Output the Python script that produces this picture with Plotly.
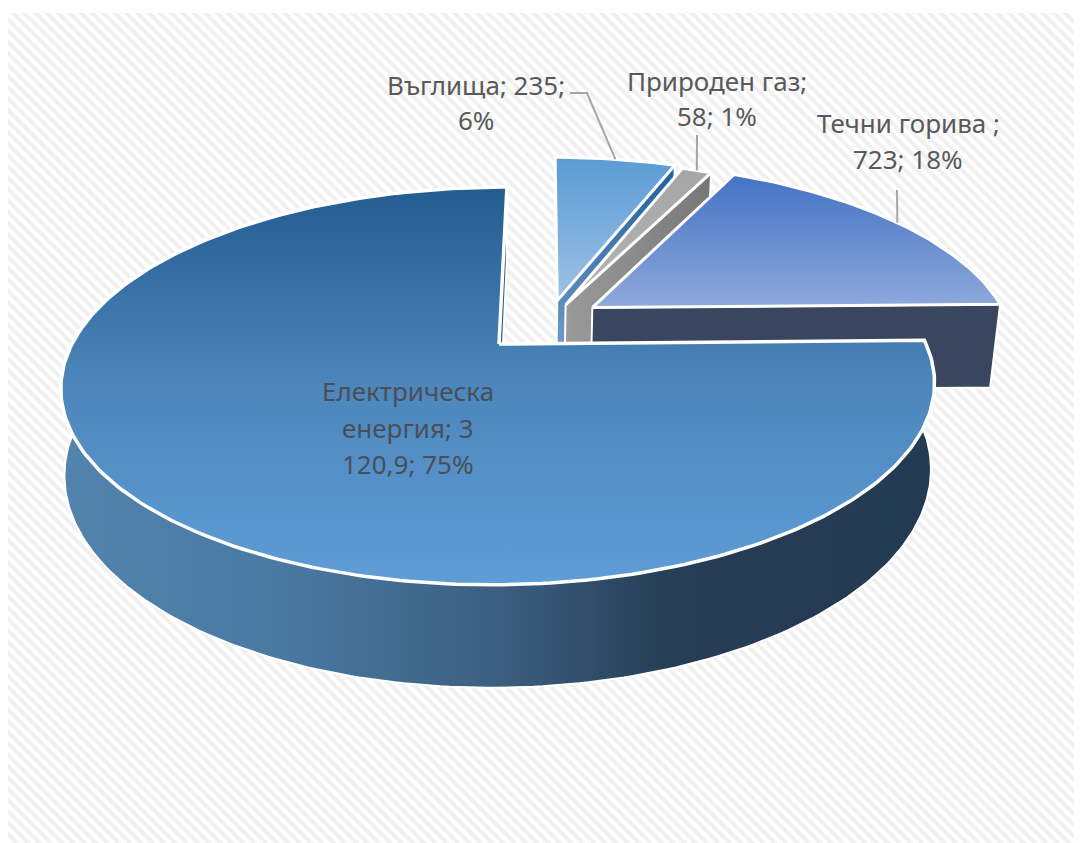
import numpy as np
import plotly.graph_objects as go

# Data
names = ["Електрическа енергия", "Въглища", "Природен газ", "Течни горива"]
values = [3120.9, 235, 58, 723]
percent_labels = ["75%", "6%", "1%", "18%"]
value_labels = ["3 120,9", "235", "58", "723"]

# Styling / projection parameters
W, H = 1082, 843
PAGE = 8                   # the page's own margin around the figure
CX, CY = 499, 344          # pie centre on the page
F, G = 427, 190            # radius scale across / along the view
K = 0.211                  # perspective
SKEW = 0.014               # slight shear of the view
WALL_W, WALL_V = 0.008, 84    # extrusion of the outer wall
FACE_W, FACE_V = 0.0213, 88   # extrusion of the cut faces
START = 88.9
explode = [(0, 0), (0.14, 0.24), (0.16, 0.2145), (0.225, 0.2)]
FONT = "Noto Sans"
TXT = "#595959"
TXT_ON_BLUE = "#4a4f57"


def project(X, Y, d=0.0, dw=WALL_W, dv=WALL_V):
    X, Y = np.asarray(X, float), np.asarray(Y, float)
    w = 1 + K * Y + dw * d
    return CX + F * (X + SKEW * Y) / w, CY + (-G * Y + dv * d) / w


def rim(t0, t1, off, d=0.0):
    n = max(2, int(abs(t1 - t0)) + 2)
    th = np.radians(np.linspace(t0, t1, n))
    return project(off[0] + np.sin(th), off[1] + np.cos(th), d)


def poly(xs, ys, gradient=None, line="white", lw=3):
    kw = dict(fillgradient=gradient) if gradient else {}
    return go.Scatter(x=list(xs), y=list(ys), mode="lines", fill="toself",
                      line=dict(color=line, width=lw), hoverinfo="skip",
                      showlegend=False, **kw)


def vgrad(*cols):
    n = len(cols) - 1
    return dict(type="vertical", colorscale=[[i / n, c] for i, c in enumerate(cols)])


def hgrad(*stops):
    return dict(type="horizontal", colorscale=[list(s) for s in stops])


total = sum(values)
sweeps = [v / total * 360 for v in values]
angles = [START]
for s in sweeps:
    angles.append(angles[-1] + s)

fig = go.Figure()

# Hatched backdrop
fig.add_trace(go.Scatter(x=[8, W + 9, W + 9, 8, 8], y=[13, 13, H + 9, H + 9, 13], mode="lines",
                         fill="toself", line=dict(width=0), hoverinfo="skip", showlegend=False,
                         fillcolor="white",
                         fillpattern=dict(shape="\\", size=8, solidity=0.5,
                                          fgcolor="#e2e2e2", bgcolor="white")))


def radial_face(t, off):
    ax, ay = project(off[0], off[1])
    bx, by = project(off[0], off[1], 1, FACE_W, FACE_V)
    th = np.radians(t)
    rx, ry = project(off[0] + np.sin(th), off[1] + np.cos(th))
    sx, sy = project(off[0] + np.sin(th), off[1] + np.cos(th), 1, FACE_W, FACE_V)
    return [float(ax), float(rx), float(sx), float(bx), float(ax)], [float(ay), float(ry), float(sy), float(by), float(ay)]


def top(i):
    x, y = rim(angles[i], angles[i + 1], explode[i])
    ax, ay = project(explode[i][0], explode[i][1])
    return [float(ax), *x, float(ax)], [float(ay), *y, float(ay)]


# Coal
fx, fy = radial_face(angles[2], explode[1])
fig.add_trace(poly(fx, fy, vgrad("#7fa6cf", "#1f5f9e"), lw=2))
tx, ty = top(1)
fig.add_trace(poly(tx, ty, vgrad("#9cc2e5", "#5b9bd5")))

# Gas
fx, fy = radial_face(angles[3], explode[2])
fig.add_trace(poly(fx, fy, hgrad((0, "#9a9a9a"), (0.5, "#8a8a8a"), (1, "#777777")), lw=2))
tx, ty = top(2)
fig.add_trace(poly(tx, ty, vgrad("#b4b4b4", "#a6a6a6")))

# Liquid fuels
fx, fy = radial_face(angles[4], explode[3])
fig.add_trace(poly(fx, fy, None, lw=2))
fig.data[-1].fillcolor = "#3a4560"
tx, ty = top(3)
fig.add_trace(poly(tx, ty, vgrad("#8ea9db", "#4472c4")))

# Electricity: end face, outer wall, top
fx, fy = radial_face(angles[1], explode[0])
fig.add_trace(poly(fx, fy, None, lw=2))
fig.data[-1].fillcolor = "#1f5a8f"
ox, oy = rim(angles[0], 300, explode[0])
bx, by = rim(300, angles[0], explode[0], 1)
fig.add_trace(poly(list(ox) + list(bx) + [ox[0]], list(oy) + list(by) + [oy[0]],
                   hgrad((0, "#5284ae"), (0.25, "#4a79a2"), (0.5, "#3b5f80"),
                         (0.7, "#263d55"), (1, "#223a52")), lw=2))
tx, ty = top(0)
fig.add_trace(poly(tx, ty, vgrad("#5f9dd7", "#4c86bb", "#235c91"), lw=3.5))


# Leader lines, from each label to the middle of its slice's rim
def rim_mid(i):
    t = np.radians((angles[i] + angles[i + 1]) / 2)
    x, y = project(explode[i][0] + np.sin(t), explode[i][1] + np.cos(t))
    return float(x), float(y)


leaders = {1: [(570, 93), (587, 93)], 2: [(697, 135)], 3: [(897, 190)]}
for i, pts in leaders.items():
    mx, my = rim_mid(i)
    fig.add_trace(go.Scatter(x=[p[0] for p in pts] + [mx], y=[p[1] for p in pts] + [my], mode="lines",
                             line=dict(color="#a6a6a6", width=2), hoverinfo="skip", showlegend=False))

# Data labels
label_lines = [
    ("Електрическа", 408, 391, TXT_ON_BLUE), ("енергия; " + value_labels[0].split()[0], 408, 428, TXT_ON_BLUE),
    (value_labels[0].split()[1] + "; " + percent_labels[0], 408, 464, TXT_ON_BLUE),
    (names[1] + "; " + value_labels[1] + ";", 476, 85, TXT), (percent_labels[1], 476, 120, TXT),
    (names[2] + ";", 717, 81, TXT), (value_labels[2] + "; " + percent_labels[2], 717, 116, TXT),
    (names[3] + " ;", 908, 123, TXT), (value_labels[3] + "; " + percent_labels[3], 908, 159, TXT),
]
for txt, x, y, col in label_lines:
    fig.add_annotation(x=x, y=y, text=txt, showarrow=False, xanchor="center", yanchor="middle",
                       font=dict(family=FONT, size=26, color=col))

fig.update_layout(
    width=W, height=H, margin=dict(l=0, r=0, t=0, b=0),
    paper_bgcolor="white", plot_bgcolor="white", showlegend=False,
    xaxis=dict(range=[PAGE, W + PAGE], visible=False, fixedrange=True),
    yaxis=dict(range=[H + PAGE, PAGE], visible=False, fixedrange=True),
)
fig.write_html("out.html")
